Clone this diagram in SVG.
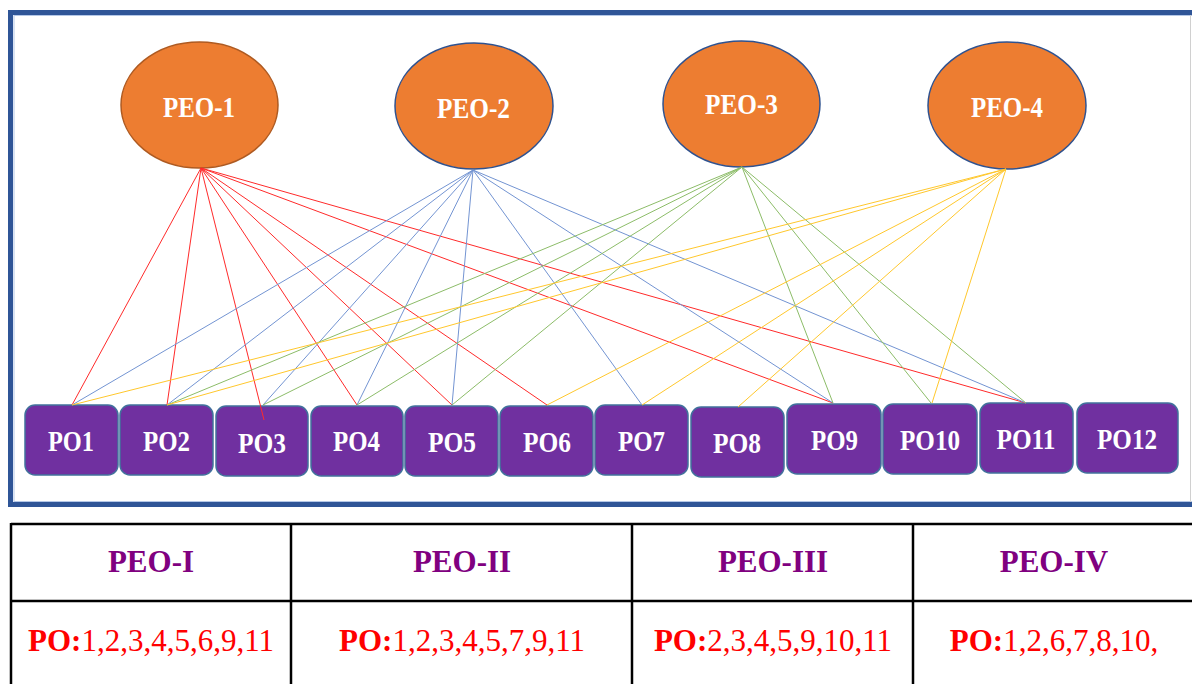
<svg xmlns="http://www.w3.org/2000/svg" width="1192" height="684" viewBox="0 0 1192 684">
<style>
.peo{fill:#ed7d31;stroke:#2f528f;stroke-width:1.5}
.peot{font-family:"Liberation Serif","Times New Roman",serif;font-weight:bold;font-size:30px;fill:#ffffff;text-anchor:middle}
.po{fill:#7030a0;stroke:#41719c;stroke-width:1.5}
.pot{font-family:"Liberation Serif","Times New Roman",serif;font-weight:bold;font-size:30px;fill:#ffffff;text-anchor:middle}
.r{stroke:#ff2a2a;stroke-width:1;fill:none}
.b{stroke:#7394d2;stroke-width:1;fill:none}
.g{stroke:#8cbc68;stroke-width:1;fill:none}
.y{stroke:#ffc72c;stroke-width:1;fill:none}
.tl{stroke:#000000;stroke-width:2.5;fill:none}
.th{font-family:"Liberation Serif","Times New Roman",serif;font-weight:bold;font-size:31px;fill:#800080;text-anchor:middle}
.tc{font-family:"Liberation Serif","Times New Roman",serif;font-size:31px;fill:#ff0000;text-anchor:middle}
</style>
<rect x="0" y="0" width="1192" height="684" fill="#ffffff"/>
<g id="frame">
<rect x="10.5" y="12.5" width="1190" height="492" fill="#ffffff" stroke="#2f5597" stroke-width="5"/>
<rect x="14" y="15.5" width="1190" height="486" fill="none" stroke="#b4c7e7" stroke-width="1"/>
<line x1="1190.5" y1="15" x2="1190.5" y2="502" stroke="#d0d0d0" stroke-width="1"/>
</g>
<g id="peo-1">
<ellipse cx="199.5" cy="105" rx="78.5" ry="63" class="peo" style="stroke:#ae5a21"/>
<text x="199" y="117" class="peot" textLength="72" lengthAdjust="spacingAndGlyphs">PEO-1</text>
</g>
<g id="peo-2">
<ellipse cx="474" cy="106" rx="79" ry="63" class="peo"/>
<text x="473.5" y="118" class="peot" textLength="73" lengthAdjust="spacingAndGlyphs">PEO-2</text>
</g>
<g id="peo-3">
<ellipse cx="741.5" cy="104" rx="78.5" ry="63" class="peo"/>
<text x="741.5" y="114" class="peot" textLength="73" lengthAdjust="spacingAndGlyphs">PEO-3</text>
</g>
<g id="peo-4">
<ellipse cx="1007" cy="105.5" rx="79" ry="63.5" class="peo"/>
<text x="1007" y="117" class="peot" textLength="72" lengthAdjust="spacingAndGlyphs">PEO-4</text>
</g>
<g id="po1"><rect x="25" y="405" width="93" height="70" rx="10" class="po"/><text x="71" y="451" class="pot" textLength="46" lengthAdjust="spacingAndGlyphs">PO1</text></g>
<g id="po2"><rect x="120" y="405" width="93" height="70" rx="10" class="po"/><text x="166.5" y="451" class="pot" textLength="47" lengthAdjust="spacingAndGlyphs">PO2</text></g>
<g id="po3"><rect x="216" y="406" width="92" height="70" rx="10" class="po"/><text x="262" y="452.5" class="pot" textLength="48" lengthAdjust="spacingAndGlyphs">PO3</text></g>
<g id="po4"><rect x="311" y="406" width="92" height="70" rx="10" class="po"/><text x="356.5" y="451" class="pot" textLength="47" lengthAdjust="spacingAndGlyphs">PO4</text></g>
<g id="po5"><rect x="405" y="406" width="93" height="70" rx="10" class="po"/><text x="452" y="451.5" class="pot" textLength="48" lengthAdjust="spacingAndGlyphs">PO5</text></g>
<g id="po6"><rect x="500" y="406" width="93" height="70" rx="10" class="po"/><text x="547" y="451.5" class="pot" textLength="48" lengthAdjust="spacingAndGlyphs">PO6</text></g>
<g id="po7"><rect x="595" y="405" width="93" height="70" rx="10" class="po"/><text x="641.5" y="451" class="pot" textLength="47" lengthAdjust="spacingAndGlyphs">PO7</text></g>
<g id="po8"><rect x="691" y="407" width="93" height="70" rx="10" class="po"/><text x="737" y="452.5" class="pot" textLength="48" lengthAdjust="spacingAndGlyphs">PO8</text></g>
<g id="po9"><rect x="787" y="404" width="94" height="70" rx="10" class="po"/><text x="834.5" y="450" class="pot" textLength="47" lengthAdjust="spacingAndGlyphs">PO9</text></g>
<g id="po10"><rect x="883" y="404" width="94" height="70" rx="10" class="po"/><text x="930" y="450" class="pot" textLength="60" lengthAdjust="spacingAndGlyphs">PO10</text></g>
<g id="po11"><rect x="980" y="403" width="93" height="70" rx="10" class="po"/><text x="1026" y="449" class="pot" textLength="59" lengthAdjust="spacingAndGlyphs">PO11</text></g>
<g id="po12"><rect x="1077" y="403" width="101" height="70" rx="10" class="po"/><text x="1127" y="449" class="pot" textLength="60" lengthAdjust="spacingAndGlyphs">PO12</text></g>
<g id="connectors">
<line x1="201" y1="168" x2="72" y2="405" class="r"/>
<line x1="201" y1="168" x2="167" y2="405" class="r"/>
<line x1="201" y1="168" x2="264" y2="420" class="r"/>
<line x1="201" y1="168" x2="357" y2="405" class="r"/>
<line x1="201" y1="168" x2="452" y2="405" class="r"/>
<line x1="201" y1="168" x2="547" y2="405" class="r"/>
<line x1="201" y1="168" x2="833" y2="403" class="r"/>
<line x1="201" y1="168" x2="1026" y2="403" class="r"/>
<line x1="473" y1="170" x2="72" y2="405" class="b"/>
<line x1="473" y1="170" x2="167" y2="405" class="b"/>
<line x1="473" y1="170" x2="263" y2="405" class="b"/>
<line x1="473" y1="170" x2="357" y2="405" class="b"/>
<line x1="473" y1="170" x2="452" y2="405" class="b"/>
<line x1="473" y1="170" x2="642" y2="405" class="b"/>
<line x1="473" y1="170" x2="833" y2="403" class="b"/>
<line x1="473" y1="170" x2="1026" y2="403" class="b"/>
<line x1="742" y1="167" x2="167" y2="405" class="g"/>
<line x1="742" y1="167" x2="263" y2="405" class="g"/>
<line x1="742" y1="167" x2="357" y2="405" class="g"/>
<line x1="742" y1="167" x2="452" y2="405" class="g"/>
<line x1="742" y1="167" x2="833" y2="403" class="g"/>
<line x1="742" y1="167" x2="931" y2="403" class="g"/>
<line x1="742" y1="167" x2="1026" y2="403" class="g"/>
<line x1="1006" y1="169" x2="72" y2="405" class="y"/>
<line x1="1006" y1="169" x2="167" y2="405" class="y"/>
<line x1="1006" y1="169" x2="547" y2="405" class="y"/>
<line x1="1006" y1="169" x2="642" y2="405" class="y"/>
<line x1="1006" y1="169" x2="738" y2="407" class="y"/>
<line x1="1006" y1="169" x2="932" y2="403" class="y"/>
</g>
<g id="table">
<line x1="11" y1="524" x2="1192" y2="524" class="tl"/>
<line x1="11" y1="601" x2="1192" y2="601" class="tl"/>
<line x1="11" y1="523" x2="11" y2="684" class="tl"/>
<line x1="291" y1="523" x2="291" y2="684" class="tl"/>
<line x1="632" y1="523" x2="632" y2="684" class="tl"/>
<line x1="913" y1="523" x2="913" y2="684" class="tl"/>
<text x="151" y="572" class="th">PEO-I</text>
<text x="462" y="572" class="th">PEO-II</text>
<text x="773" y="572" class="th">PEO-III</text>
<text x="1054" y="572" class="th">PEO-IV</text>
<text x="151" y="651" class="tc"><tspan font-weight="bold">PO:</tspan>1,2,3,4,5,6,9,11</text>
<text x="462" y="651" class="tc"><tspan font-weight="bold">PO:</tspan>1,2,3,4,5,7,9,11</text>
<text x="773" y="651" class="tc"><tspan font-weight="bold">PO:</tspan>2,3,4,5,9,10,11</text>
<text x="1054" y="651" class="tc"><tspan font-weight="bold">PO:</tspan>1,2,6,7,8,10,</text>
</g>
</svg>
